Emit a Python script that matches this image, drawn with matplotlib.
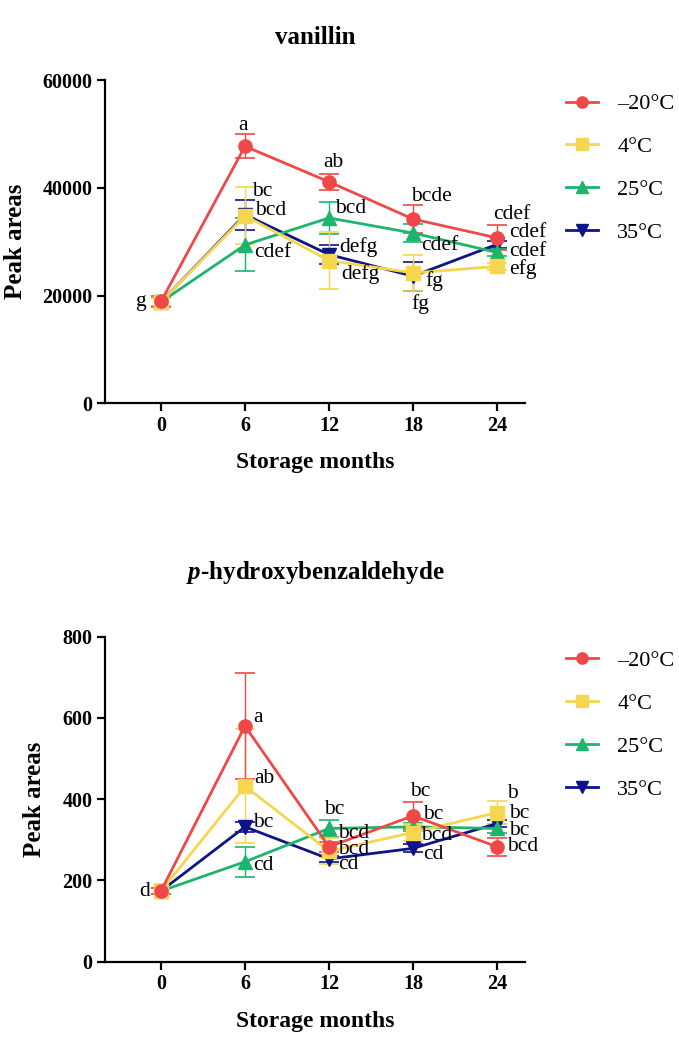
import numpy as np
import matplotlib
matplotlib.use('Agg')
from matplotlib import pyplot as plt

plt.rcParams['font.family'] = ['Liberation Serif', 'DejaVu Serif']
plt.rcParams['mathtext.fontset'] = 'custom'
plt.rcParams['mathtext.rm'] = 'Liberation Serif'
plt.rcParams['mathtext.bf'] = 'Liberation Serif:bold'
plt.rcParams['mathtext.it'] = 'Liberation Serif:italic:bold'

months = [0, 6, 12, 18, 24]
temps = ['\u201320\u00b0C', '4\u00b0C', '25\u00b0C', '35\u00b0C']

# vanillin peak areas (mean, error)
van_m20 = [18900, 47700, 41100, 34200, 30700]
van_m20_err = [1000, 2200, 1500, 2600, 2300]
van_4 = [18800, 34800, 26500, 24200, 25400]
van_4_err = [800, 5300, 5200, 3300, 700]
van_25 = [18800, 29400, 34400, 31600, 28000]
van_25_err = [800, 4900, 2900, 1700, 700]
van_35 = [18800, 35000, 27600, 23600, 29500]
van_35_err = [800, 2800, 1700, 2700, 700]

van_m20_lab = ['g', 'a', 'ab', 'bcde', 'cdef']
van_4_lab = ['', 'bc', 'defg', 'fg', 'efg']
van_25_lab = ['', 'cdef', 'bcd', 'cdef', 'cdef']
van_35_lab = ['', 'bcd', 'defg', 'fg', 'cdef']

# p-hydroxybenzaldehyde peak areas
hyd_m20 = [174, 580, 283, 359, 283]
hyd_m20_err = [8, 131, 12, 33, 22]
hyd_4 = [174, 432, 272, 318, 367]
hyd_4_err = [8, 141, 32, 20, 29]
hyd_25 = [174, 246, 328, 332, 328]
hyd_25_err = [8, 37, 20, 10, 10]
hyd_35 = [174, 332, 253, 279, 340]
hyd_35_err = [8, 12, 8, 10, 8]

hyd_m20_lab = ['d', 'a', 'bcd', 'bc', 'bcd']
hyd_4_lab = ['', 'ab', 'bcd', 'bcd', 'b']
hyd_25_lab = ['', 'cd', 'bc', 'bc', 'bc']
hyd_35_lab = ['', 'bc', 'cd', 'cd', 'bc']

colors = ['#F04848', '#F5D64E', '#1DB46E', '#0E1488']
markers = ['o', 's', '^', 'v']

# label offsets in pixels (dx, dy, ha)
van_off = [
    [(-21, 0, 'center'), (-2, 21, 'center'), (4, 19, 'center'), (18, 23, 'center'), (15, 23, 'center')],
    [None, (7, 24, 'left'), (12, -14, 'left'), (12, -8, 'left'), (12, -3, 'left')],
    [None, (9, -8, 'left'), (6, 9, 'left'), (8, -12, 'left'), (12, 1, 'left')],
    [None, (10, 4, 'left'), (10, 8, 'left'), (7, -28, 'center'), (12, 12, 'left')],
]
hyd_off = [
    [(-16, 0, 'center'), (8, 9, 'left'), (9, 13, 'left'), (7, 24, 'center'), (10, 0, 'left')],
    [None, (9, 8, 'left'), (9, 2, 'left'), (8, -3, 'left'), (15, 19, 'center')],
    [None, (8, -4, 'left'), (5, 19, 'center'), (10, 12, 'left'), (12, -2, 'left')],
    [None, (8, 4, 'left'), (9, -6, 'left'), (10, -6, 'left'), (12, 10, 'left')],
]

fig = plt.figure(figsize=(6.79, 10.5), dpi=100)
ax1 = fig.add_axes([105 / 679, 1 - 403.3 / 1050, 420 / 679, 323.3 / 1050])
ax2 = fig.add_axes([105 / 679, 1 - 961.7 / 1050, 420 / 679, 325 / 1050])


def draw(ax, series, errs, labels, offs, ymax, yticks, ylab_x):
    handles = []
    for i in [3, 2, 1, 0]:
        z = 3 + (3 - i) * 0.1
        ax.errorbar(months, series[i], yerr=errs[i], color=colors[i], lw=0, elinewidth=1.0,
                    capsize=7, capthick=1.2, zorder=z - 1)
        h, = ax.plot(months, series[i], color=colors[i], lw=2, marker=markers[i],
                     markersize=9.5, zorder=z)
        handles.append(h)
        for x, y, lab, off in zip(months, series[i], labels[i], offs[i]):
            if lab:
                ax.annotate(lab, (x, y), xytext=(off[0], off[1]), textcoords='offset pixels',
                            ha=off[2], va='center', fontsize=15.5, zorder=5)
    handles = handles[::-1]
    ax.set_xlim(-4, 26)
    ax.set_ylim(0, ymax)
    ax.set_xticks(months)
    ax.set_yticks(yticks)
    ax.spines['top'].set_visible(False)
    ax.spines['right'].set_visible(False)
    for s in ['left', 'bottom']:
        ax.spines[s].set_linewidth(1.6)
    ax.tick_params(direction='out', length=6, width=1.6, labelsize=14.5, pad=3)
    for t in ax.get_xticklabels() + ax.get_yticklabels():
        t.set_fontweight('bold')
    ax.set_xlabel('Storage months', fontsize=17, fontweight='bold', labelpad=12)
    ax.set_ylabel('Peak areas', fontsize=18, fontweight='bold')
    ax.yaxis.set_label_coords(ylab_x, 0.5)
    ax.legend(handles, temps, loc='upper left', bbox_to_anchor=(1.098, 0.957), frameon=False,
              fontsize=16, handlelength=1.45, labelspacing=1.0, handletextpad=0.85,
              borderpad=0, borderaxespad=0, markerscale=0.85)


draw(ax1, [van_m20, van_4, van_25, van_35], [van_m20_err, van_4_err, van_25_err, van_35_err],
     [van_m20_lab, van_4_lab, van_25_lab, van_35_lab], van_off, 60000, [0, 20000, 40000, 60000],
     (27 - 105) / 420)
draw(ax2, [hyd_m20, hyd_4, hyd_25, hyd_35], [hyd_m20_err, hyd_4_err, hyd_25_err, hyd_35_err],
     [hyd_m20_lab, hyd_4_lab, hyd_25_lab, hyd_35_lab], hyd_off, 800, [0, 200, 400, 600, 800],
     (46 - 105) / 420)

fig.text(315 / 679, 1 - 38 / 1050, 'vanillin', ha='center', va='center', fontsize=18, fontweight='bold')
fig.text(315 / 679, 1 - 573 / 1050, r'$\mathit{p}$-hydroxybenzaldehyde', ha='center', va='center',
         fontsize=18, fontweight='bold')

fig.savefig('out.png', dpi=100)
